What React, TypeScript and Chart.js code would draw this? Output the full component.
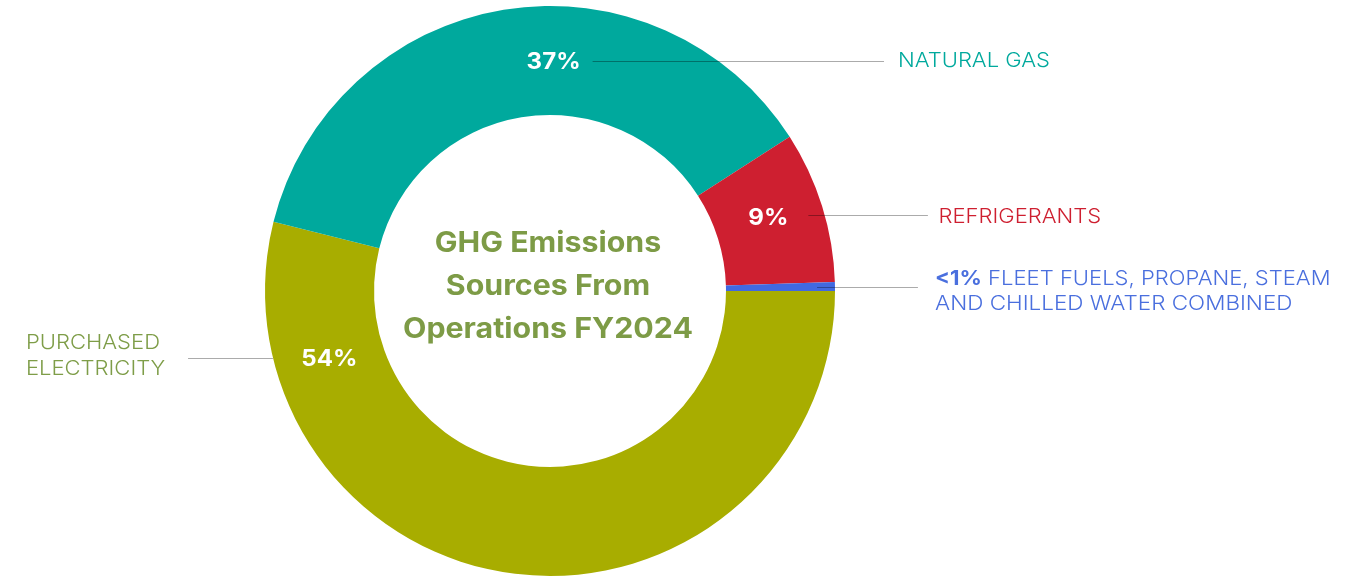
import React, { useEffect, useRef } from "react";
import { Chart, registerables } from "chart.js";

Chart.register(...registerables);

// ---- data ----
const categories = [
  "PURCHASED ELECTRICITY",
  "NATURAL GAS",
  "REFRIGERANTS",
  "FLEET FUELS, PROPANE, STEAM AND CHILLED WATER COMBINED",
];
const shares = [53.9, 37.0, 8.6, 0.5];
const percentLabels = ["54%", "37%", "9%", "<1%"];
const sliceColors = ["#A8AD00", "#00A99D", "#CE1F30", "#4169E1"];
const labelColors = ["#7E9D48", "#00A99D", "#CE1F30", "#4A6FDE"];
const labelLines = [
  ["PURCHASED", "ELECTRICITY"],
  ["NATURAL GAS"],
  ["REFRIGERANTS"],
  ["FLEET FUELS, PROPANE, STEAM", "AND CHILLED WATER COMBINED"],
];
const centerTitle = ["GHG Emissions", "Sources From", "Operations FY2024"];
const centerColor = "#7D9B46";

const FAMILY = "Inter, 'Open Sans', sans-serif";

function drawScaled(
  ctx: CanvasRenderingContext2D,
  text: string,
  x: number,
  baseline: number,
  font: string,
  scaleX: number,
  align: "left" | "center" | "right"
): number {
  ctx.save();
  ctx.font = font;
  const w = ctx.measureText(text).width * scaleX;
  const left = align === "center" ? x - w / 2 : align === "right" ? x - w : x;
  ctx.translate(left, baseline);
  ctx.scale(scaleX, 1);
  ctx.textAlign = "left";
  ctx.textBaseline = "alphabetic";
  ctx.fillText(text, 0, 0);
  ctx.restore();
  return w;
}

function scaleFor(ctx: CanvasRenderingContext2D, font: string, sample: string, target: number) {
  ctx.save();
  ctx.font = font;
  const w = ctx.measureText(sample).width;
  ctx.restore();
  return w > 0 ? target / w : 1;
}

const labelPlugin = {
  id: "ghgLabels",
  afterDatasetsDraw(chart: any) {
    const ctx: CanvasRenderingContext2D = chart.ctx;
    const arcs = chart.getDatasetMeta(0).data;
    if (!arcs.length) return;
    const a0 = arcs[0].getProps(["x", "y", "outerRadius", "innerRadius"], true);
    const cx = a0.x, cy = a0.y, R = a0.outerRadius, r = a0.innerRadius;
    const rMid = (R + r) / 2;

    const labelFont = `300 20.6px ${FAMILY}`;
    const boldLabelFont = `700 20.6px ${FAMILY}`;
    const pctFont = `700 23px ${FAMILY}`;
    const centerFont = `700 28px ${FAMILY}`;
    const labelCap = 15;
    const pctCap = 16.5;

    const labelScale = scaleFor(ctx, labelFont, "NATURAL GAS", 152);
    const pctScale = scaleFor(ctx, pctFont, "37%", 54);
    const centerScale = scaleFor(ctx, centerFont, "Operations FY2024", 290);

    const pointAt = (i: number, frac: number, rad: number) => {
      const p = arcs[i].getProps(["startAngle", "endAngle"], true);
      const ang = p.startAngle + frac * (p.endAngle - p.startAngle);
      return { x: cx + rad * Math.cos(ang), y: cy + rad * Math.sin(ang) };
    };

    const hLine = (x1: number, x2: number, y: number) => {
      ctx.save();
      ctx.strokeStyle = "rgba(0,0,0,0.33)";
      ctx.lineWidth = 1;
      ctx.beginPath();
      const yy = Math.round(y) + 0.5;
      ctx.moveTo(x1, yy);
      ctx.lineTo(x2, yy);
      ctx.stroke();
      ctx.restore();
    };

    const pctAt = (i: number, frac: number) => {
      const p = pointAt(i, frac, rMid);
      ctx.fillStyle = "#FFFFFF";
      drawScaled(ctx, percentLabels[i], p.x, p.y + pctCap / 2, pctFont, pctScale, "center");
      return p;
    };

    // Purchased electricity (index 0) - left
    {
      const p = pctAt(0, 0.841);
      const ly = p.y;
      const edgeX = cx - Math.sqrt(Math.max(R * R - (ly - cy) * (ly - cy), 0));
      hLine(cx - 1.27 * R, edgeX, ly);
      ctx.fillStyle = labelColors[0];
      const tx = cx - 1.839 * R;
      drawScaled(ctx, labelLines[0][0], tx, ly - 16 + labelCap / 2, labelFont, labelScale, "left");
      drawScaled(ctx, labelLines[0][1], tx, ly + 10 + labelCap / 2, labelFont, labelScale, "left");
    }

    // Natural gas (index 1)
    {
      const p = pctAt(1, 0.577);
      hLine(p.x + 39, cx + 1.172 * R, p.y);
      ctx.fillStyle = labelColors[1];
      drawScaled(ctx, labelLines[1][0], cx + 1.221 * R, p.y - 1.5 + labelCap / 2, labelFont, labelScale, "left");
    }

    // Refrigerants (index 2)
    {
      const p = pctAt(2, 0.454);
      hLine(p.x + 40, cx + 1.326 * R, p.y - 2);
      ctx.fillStyle = labelColors[2];
      drawScaled(ctx, labelLines[2][0], cx + 1.363 * R, p.y - 1.5 + labelCap / 2, labelFont, labelScale, "left");
    }

    // Combined small sources (index 3)
    {
      const p = pointAt(3, 0.5, rMid);
      const ly = p.y;
      hLine(cx + 0.937 * R, cx + 1.291 * R, ly);
      ctx.fillStyle = labelColors[3];
      const tx = cx + 1.351 * R;
      const b1 = ly - 10 + labelCap / 2;
      const w = drawScaled(ctx, percentLabels[3], tx, b1, boldLabelFont, labelScale, "left");
      drawScaled(ctx, " " + labelLines[3][0], tx + w, b1, labelFont, labelScale, "left");
      drawScaled(ctx, labelLines[3][1], tx, ly + 15.5 + labelCap / 2, labelFont, labelScale * 1.02, "left");
    }

    // Center title
    ctx.fillStyle = centerColor;
    const offs = [-39.3, 3.7, 46.7];
    centerTitle.forEach((t, k) => {
      drawScaled(ctx, t, cx - 2, cy + offs[k], centerFont, centerScale, "center");
    });
  },
};

export default function App() {
  const canvasRef = useRef<HTMLCanvasElement | null>(null);

  useEffect(() => {
    document.body.style.margin = "0";
    const canvas = canvasRef.current;
    if (!canvas) return;
    const chart = new Chart(canvas, {
      type: "doughnut",
      data: {
        labels: categories,
        datasets: [
          {
            data: shares,
            backgroundColor: sliceColors,
            borderWidth: 0,
            hoverOffset: 0,
          },
        ],
      },
      options: {
        responsive: false,
        animation: false,
        devicePixelRatio: 1,
        rotation: 90,
        cutout: "61.75%",
        layout: { padding: { left: 265, right: 521, top: 6, bottom: 1 } },
        plugins: {
          legend: { display: false },
          tooltip: { enabled: false },
        },
      },
      plugins: [labelPlugin],
    });
    return () => chart.destroy();
  }, []);

  return (
    <div style={{ width: 1356, height: 577, background: "#fff" }}>
      <canvas ref={canvasRef} width={1356} height={577} style={{ display: "block" }} />
    </div>
  );
}
